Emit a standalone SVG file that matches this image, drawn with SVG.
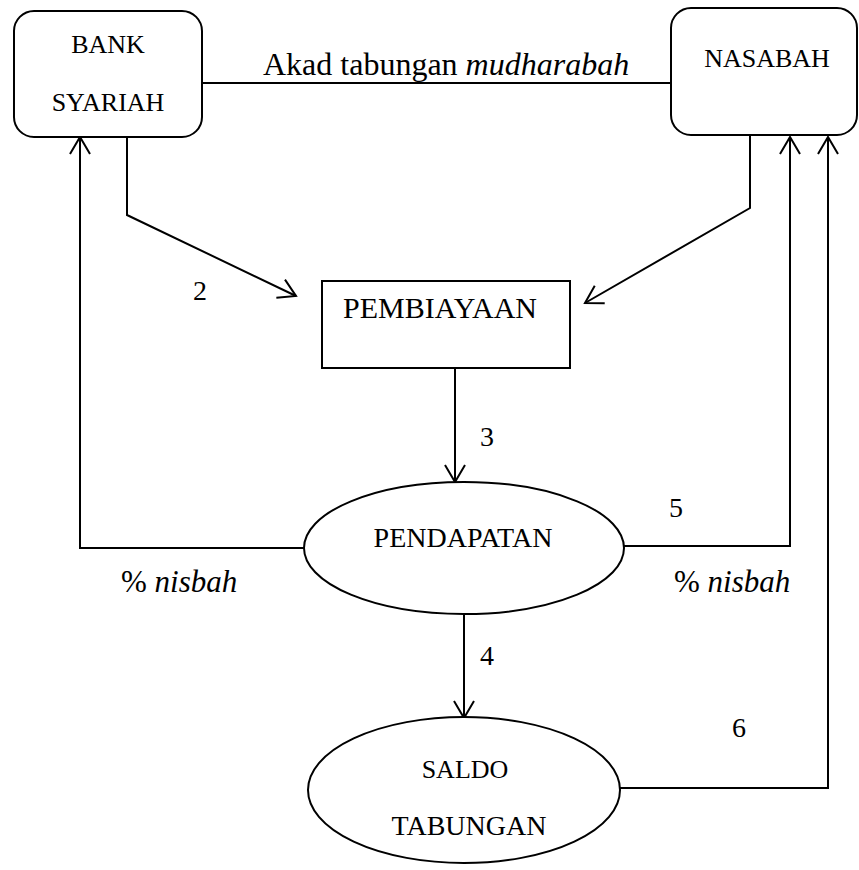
<svg xmlns="http://www.w3.org/2000/svg" width="859" height="870" viewBox="0 0 859 870">
<defs>
<marker id="arr" viewBox="-20 -12 22 24" markerWidth="22" markerHeight="24" refX="0" refY="0" orient="auto" markerUnits="userSpaceOnUse">
<path d="M-17,-10 L0,0 L-17,10" fill="none" stroke="#000" stroke-width="2"/>
</marker>
</defs>
<style>
.shape{fill:#fff;stroke:#000;stroke-width:2}
.conn{fill:none;stroke:#000;stroke-width:2}
.t{font-family:"Liberation Serif",serif;fill:#000}
.lbl{font-size:26px}
.big{font-size:28px}
.c{text-anchor:middle}
.i{font-style:italic}
</style>
<g id="connectors">
<line class="conn" x1="202" y1="83" x2="671" y2="83"/>
<path class="conn" d="M127 137 V215 L296 296" marker-end="url(#arr)"/>
<path class="conn" d="M750 135 V208 L585 303" marker-end="url(#arr)"/>
<path class="conn" d="M455 368 V482" marker-end="url(#arr)"/>
<path class="conn" d="M304 548 H80 V137" marker-end="url(#arr)"/>
<path class="conn" d="M624 546 H790 V137" marker-end="url(#arr)"/>
<path class="conn" d="M464 615 V718" marker-end="url(#arr)"/>
<path class="conn" d="M620 788 H828 V137" marker-end="url(#arr)"/>
<text class="t" x="263" y="75" style="font-size:32px">Akad tabungan <tspan class="i">mudharabah</tspan></text>
<text class="t big" x="193" y="300">2</text>
<text class="t big" x="480" y="446">3</text>
<text class="t big" x="669" y="517">5</text>
<text class="t big" x="480" y="665">4</text>
<text class="t big" x="732" y="737">6</text>
<text class="t" x="121" y="592" style="font-size:31px">% <tspan class="i">nisbah</tspan></text>
<text class="t" x="674" y="592" style="font-size:31px">% <tspan class="i">nisbah</tspan></text>
</g>
<g id="bank">
<rect class="shape" x="14" y="11" width="188" height="126" rx="20"/>
<text class="t lbl c" x="108" y="53">BANK</text>
<text class="t lbl c" x="108" y="111">SYARIAH</text>
</g>
<g id="nasabah">
<rect class="shape" x="671" y="8" width="186" height="127" rx="20"/>
<text class="t lbl c" x="767" y="67">NASABAH</text>
</g>
<g id="pembiayaan">
<rect class="shape" x="322" y="281" width="248" height="87"/>
<text class="t c" x="440" y="318" style="font-size:30px">PEMBIAYAAN</text>
</g>
<g id="pendapatan">
<ellipse class="shape" cx="464" cy="548" rx="160" ry="66"/>
<text class="t c" x="463" y="547" style="font-size:28px">PENDAPATAN</text>
</g>
<g id="saldo">
<ellipse class="shape" cx="464" cy="790" rx="156" ry="73"/>
<text class="t c" x="465" y="778" style="font-size:26px">SALDO</text>
<text class="t c" x="469" y="835" style="font-size:28px">TABUNGAN</text>
</g>
</svg>
